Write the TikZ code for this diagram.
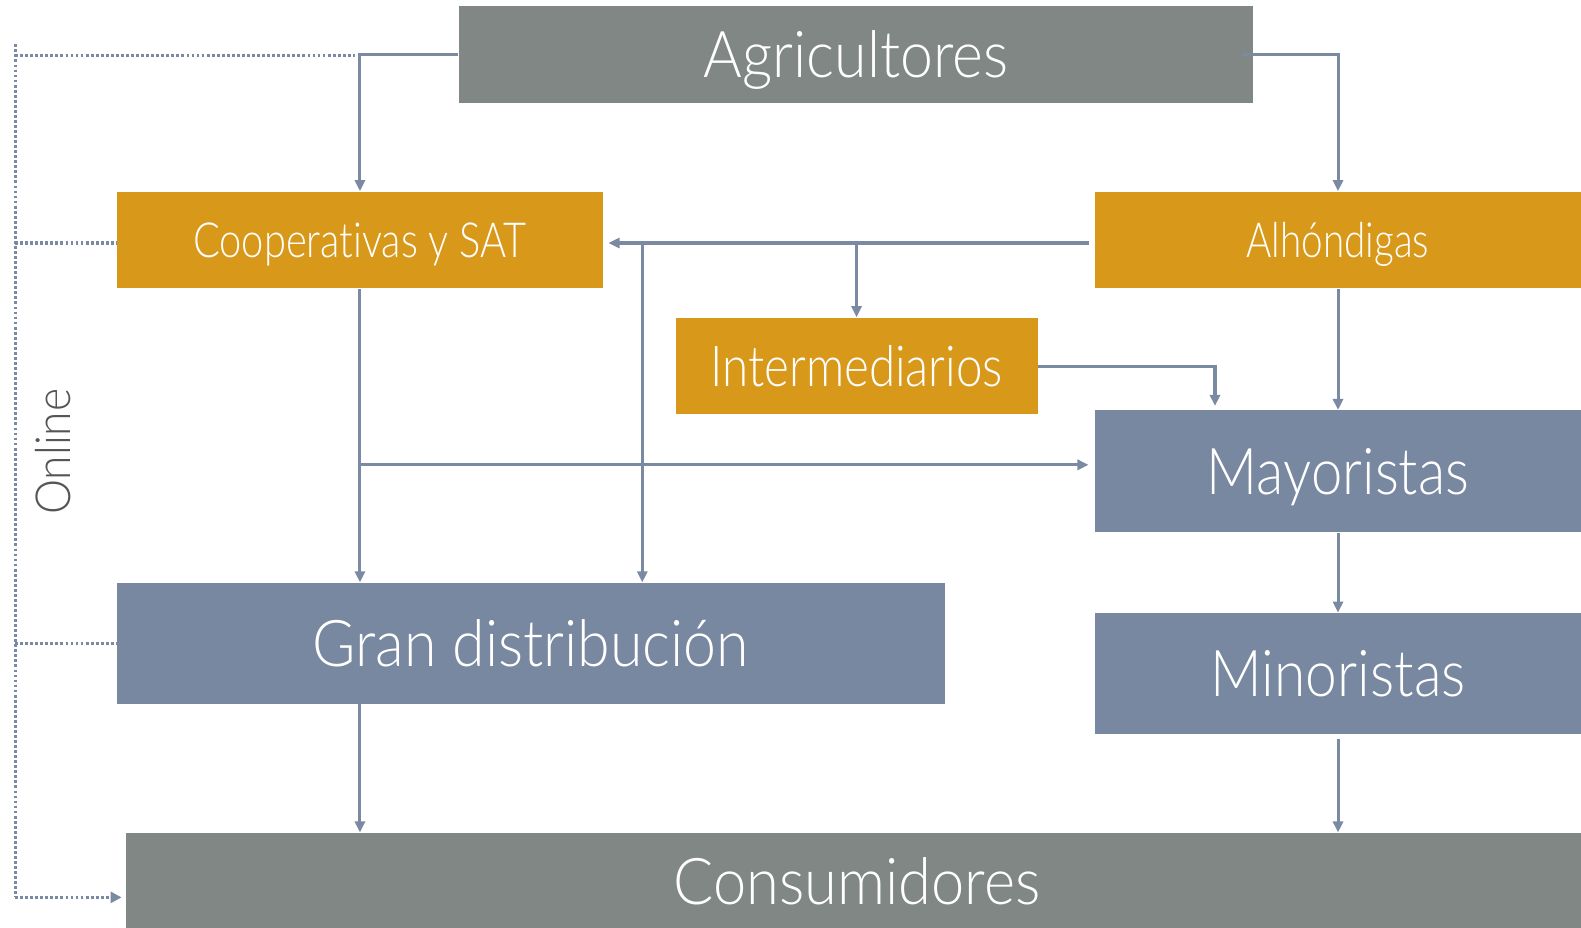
\documentclass[tikz,border=0pt]{standalone}
\usepackage{fontspec}
\setmainfont{Lato Light}[Ligatures=NoCommon]
\usetikzlibrary{arrows.meta,calc}
\definecolor{boxgray}{HTML}{818784}
\definecolor{boxorange}{HTML}{D8981A}
\definecolor{boxblue}{HTML}{7888A0}
\definecolor{linecol}{HTML}{7A8AA3}
\definecolor{textgray}{HTML}{555555}
\newcommand\fitw[2]{\resizebox{#1}{\height}{#2}}
\tikzset{
  box/.style={rectangle, inner sep=0pt, text=white, text depth=0pt},
  graybox/.style={box, fill=boxgray},
  orangebox/.style={box, fill=boxorange},
  bluebox/.style={box, fill=boxblue},
  arr/.style={draw=linecol, line width=1.5pt, -{Triangle[length=5.5pt,width=5pt]}},
  dotline/.style={draw=linecol, line width=1.6pt, dash pattern=on 1.4pt off 1.1pt},
}
\begin{document}
\begin{tikzpicture}[x=0.5pt,y=-0.5pt]
\useasboundingbox (0,0) rectangle (1568,920);
\clip (0,0) rectangle (1568,920);

% boxes
\node[graybox, minimum width=394pt, minimum height=48pt, text height=23pt, font=\fontsize{32}{36}\selectfont] (agr) at (849,54) {\fitw{151pt}{Agricultores}};
\node[orangebox, minimum width=241pt, minimum height=48pt, text height=17pt, font=\fontsize{24}{28}\selectfont] (coop) at (357,238) {\fitw{165.5pt}{Cooperativas y SAT}};
\node[orangebox, minimum width=241pt, minimum height=48pt, text height=17pt, font=\fontsize{24}{28}\selectfont] (alh) at (1327,238) {\fitw{90.5pt}{Alhóndigas}};
\node[orangebox, minimum width=179.5pt, minimum height=48pt, text height=20pt, font=\fontsize{28}{32}\selectfont] (inter) at (849.5,363) {\fitw{145pt}{Intermediarios}};
\node[bluebox, minimum width=241pt, minimum height=60.5pt, text height=23pt, font=\fontsize{32}{36}\selectfont] (may) at (1327,467.5) {\fitw{130pt}{Mayoristas}};
\node[bluebox, minimum width=410.5pt, minimum height=60pt, text height=23pt, font=\fontsize{32}{36}\selectfont] (gran) at (526.5,638) {\fitw{216.5pt}{Gran distribución}};
\node[bluebox, minimum width=241pt, minimum height=60pt, text height=23pt, font=\fontsize{32}{36}\selectfont] (mino) at (1327,668) {\fitw{126.5pt}{Minoristas}};
\node[graybox, minimum width=725pt, minimum height=48pt, text height=23pt, font=\fontsize{32}{36}\selectfont] (cons) at (850,874) {\fitw{182pt}{Consumidores}};

% Online label
\node[text=textgray, rotate=90, inner sep=0pt, text height=17pt, text depth=0pt, font=\fontsize{24}{28}\selectfont] (online) at (53,448) {\fitw{62.5pt}{Online}};

% helper coordinates
\coordinate (jx) at (637,0);
\coordinate (jy) at (0,461);
\coordinate (jm) at (1205,0);
\coordinate (ox) at (15,0);
\coordinate (dl) at (352,0);

% solid connectors
\draw[arr] (agr.west) -| (coop.north);
\draw[arr] ([xshift=-6pt]agr.east) -| (alh.north);
\draw[arr, shorten >=2.5pt, shorten <=3pt] (alh.west |- 0,241) -- (coop.east |- 0,241);
\draw[arr] (inter.north |- 0,241) -- (inter.north);
\draw[arr] (jx |- 0,241) -- (jx |- gran.north);
\draw[arr] (coop.south) -- (coop.south |- gran.north);
\draw[arr, shorten >=3pt] (coop.south |- jy) -- (may.west |- jy);
\draw[arr] (inter.east) -| ([yshift=2pt]jm |- may.north);
\draw[arr] (alh.south) -- (may.north);
\draw[arr] (may.south) -- (mino.north);
\draw[arr, shorten <=2.5pt] (mino.south) -- (mino.south |- cons.north);
\draw[arr] (coop.south |- gran.south) -- (coop.south |- cons.north);

% dotted "Online" connectors
\draw[dotline] (15,44) -- (15,890);
\draw[dotline] (ox |- 0,55) -- (dl |- 0,55);
\draw[dotline] (ox |- 0,241) -- (coop.west |- 0,241);
\draw[dotline] (ox |- 0,638) -- (gran.west |- 0,638);
\draw[dotline, -{Triangle[length=5.5pt,width=5.5pt]}] (ox |- 0,890) -- ([xshift=-2pt]cons.west |- 0,890);
\end{tikzpicture}
\end{document}
